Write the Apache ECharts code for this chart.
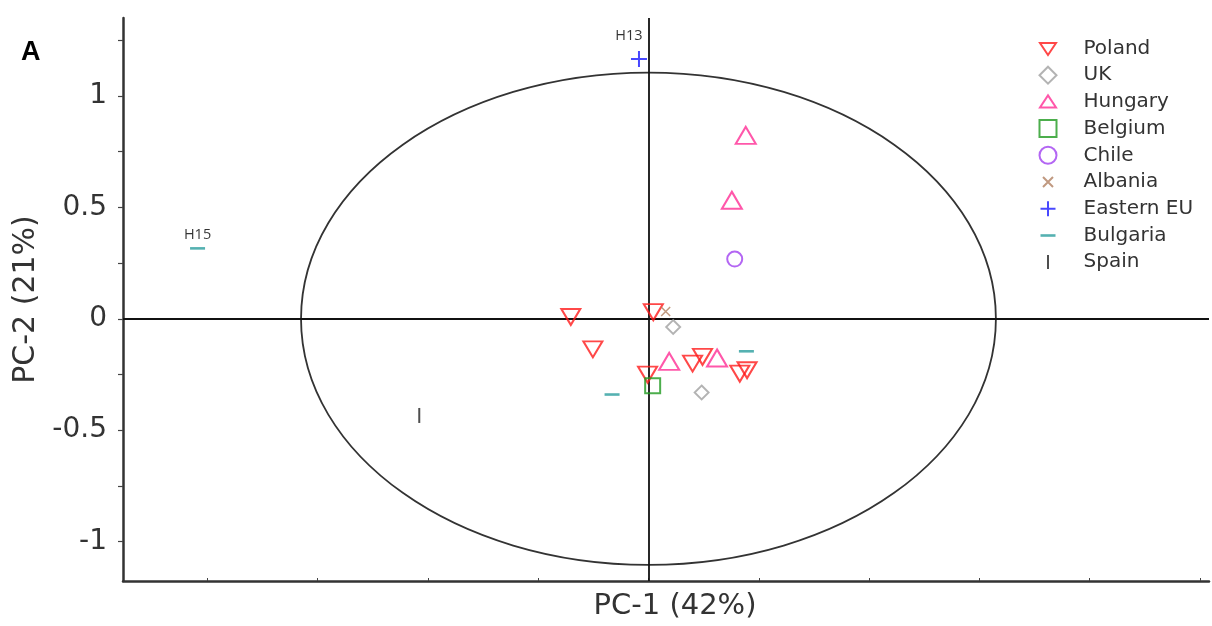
<!DOCTYPE html>
<html>
<head>
<meta charset="utf-8">
<script src="https://cdn.jsdelivr.net/npm/echarts@6/dist/echarts.min.js"></script>
<style>html,body{margin:0;padding:0;background:#fff}#c{width:1212px;height:626px}</style>
</head>
<body>
<div id="c"></div>
<script>
// Scores: [PC-1, PC-2]
const poland = [[-0.352,0.008],[0.022,0.030],[-0.252,-0.137],[-0.004,-0.251],[0.200,-0.201],[0.245,-0.171],[0.414,-0.246],[0.447,-0.231]];
const uk = [[0.112,-0.037],[0.241,-0.331]];
const hungary = [[0.094,-0.191],[0.311,-0.176],[0.441,0.823],[0.378,0.532]];
const belgium = [[0.019,-0.301]];
const chile = [[0.391,0.268]];
const albania = [[0.078,0.033]];
const easternEU = [[-0.043,1.166]];
const bulgaria = [[-2.044,0.316],[-0.165,-0.340],[0.444,-0.146]];
const spain = [[-1.039,-0.434]];
// Confidence ellipse: centre and semi-axes (PC units)
const ellipse = [[0,0,1.575,1.105]];
const yTicks = [-1,-0.75,-0.5,-0.25,0,0.25,0.5,0.75,1,1.25];
const yLabels = [-1,-0.5,0,0.5,1];
const xTicks = [-2,-1.5,-1,-0.5,0,0.5,1,1.5,2,2.5];
const legendNames = ['Poland','UK','Hungary','Belgium','Chile','Albania','Eastern EU','Bulgaria','Spain'];
const pointLabels = {H13: easternEU[0], H15: bulgaria[0]};

const chart = echarts.init(document.getElementById('c'));
const FONT = '"DejaVu Sans", sans-serif';
const LFONT = '"Open Sans", sans-serif';
function hollow(name, data, symbol, size, color, bw) {
  return {
    name, type:'scatter', data, symbol, symbolSize:size,
    itemStyle:{color:'rgba(0,0,0,0)', borderColor:color, borderWidth:bw||1.9},
    z:5
  };
}
function labelled(data, txt, offset, dist) {
  return data.map(d => {
    const match = pointLabels[txt] === d;
    return match ? {value:d, label:{show:true, formatter:txt, position:'top', distance:dist, offset:offset,
      color:'#000', fontSize:14.5, fontFamily:LFONT}} : {value:d};
  });
}
const legendIcons = {
  'Poland':'path://M0,0M17,17M0.5,3L16.5,3L8.5,15Z',
  'Hungary':'path://M0,0M17,17M8.5,2L16.5,14L0.5,14Z',
  'Albania':'path://M0,0M17,17M3.5,3.5L13.5,13.5M13.5,3.5L3.5,13.5',
  'Eastern EU':'path://M0,0M17,17M1,8.5L16,8.5M8.5,1L8.5,16',
  'Bulgaria':'path://M0,0M17,17M1,7.3L16,7.3L16,9.9L1,9.9Z',
  'Spain':'path://M0,0M17,17M7.5,1.5L9.5,1.5L9.5,15.5L7.5,15.5Z'
};
const option = {
  animation:false,
  title:{text:'A', left:16, top:34, textStyle:{fontSize:27, fontWeight:'bold', color:'#000', fontFamily:'"Liberation Sans", Arial, sans-serif'}},
  grid:{left:123, right:3, top:18, bottom:43, containLabel:false},
  legend:{
    orient:'vertical', left:1033.5, top:33.5, itemGap:6.7, itemWidth:17, itemHeight:17,
    textStyle:{fontSize:20, color:'#333', fontFamily:FONT, padding:[0,0,0,22]},
    data:legendNames.map(n => legendIcons[n] ? {name:n, icon:legendIcons[n]} : {name:n})
  },
  xAxis:{
    type:'value', min:-2.382, max:2.541,
    name:'PC-1 (42%)', nameLocation:'middle', nameGap:11,
    nameTextStyle:{fontSize:29, color:'#333', fontFamily:FONT, padding:[0,0,0,18]},
    axisLine:{onZero:false, lineStyle:{color:'#333', width:2.5}},
    axisTick:{show:true, inside:true, length:3, customValues:xTicks, lineStyle:{color:'#444', width:1}},
    axisLabel:{show:false},
    splitLine:{show:false}
  },
  yAxis:{
    type:'value', min:-1.177, max:1.35,
    name:'PC-2 (21%)', nameLocation:'middle', nameGap:81, nameRotate:90,
    nameTextStyle:{fontSize:30, color:'#333', fontFamily:FONT},
    axisLine:{onZero:false, lineStyle:{color:'#333', width:2.5}},
    axisTick:{show:true, length:5, customValues:yTicks, lineStyle:{color:'#444', width:1.2}},
    axisLabel:{customValues:yLabels, fontSize:28, color:'#333', fontFamily:FONT, margin:16},
    splitLine:{show:false}
  },
  series:[
    {
      type:'custom', name:'ellipse', data:ellipse, silent:true, z:2,
      renderItem:function(params, api){
        const c = api.coord([api.value(0), api.value(1)]);
        const s = api.size([api.value(2), api.value(3)]);
        return {type:'ellipse', shape:{cx:c[0], cy:c[1], rx:s[0], ry:s[1]},
          style:{fill:null, stroke:'#333', lineWidth:1.8}};
      },
      markLine:{
        silent:true, symbol:['none','none'], label:{show:false},
        lineStyle:{color:'#111', width:1.8, type:'solid'},
        data:[{xAxis:0},{yAxis:0}]
      }
    },
    hollow('Poland', poland, 'path://M0,0L10,0L5,8.5Z', [19,16], '#ff1a1a', 2),
    hollow('UK', uk, 'path://M5,0L10,5L5,10L0,5Z', [14,14], '#a0a0a0', 1.9),
    hollow('Hungary', hungary, 'path://M5,0L10,8.5L0,8.5Z', [20,17], '#ff2d95', 2),
    hollow('Belgium', belgium, 'rect', [15,15], '#1f9a1f', 2),
    hollow('Chile', chile, 'circle', [15,15], '#a040f0', 2),
    hollow('Albania', albania, 'path://M0,0L10,10M10,0L0,10', [9,9], '#b08060', 1.5),
    hollow('Eastern EU', labelled(easternEU,'H13',[-10,0],7), 'path://M0,5L10,5M5,0L5,10', [16,16], '#1a1aff', 2),
    {name:'Bulgaria', type:'scatter', data:labelled(bulgaria,'H15',[0,0],5), symbol:'rect', symbolSize:[15,2.6],
      itemStyle:{color:'#2a9d9d'}, z:5},
    {name:'Spain', type:'scatter', data:spain, symbol:'rect', symbolSize:[2,15],
      itemStyle:{color:'#222'}, z:5}
  ]
};
chart.setOption(option);
</script>
</body>
</html>
